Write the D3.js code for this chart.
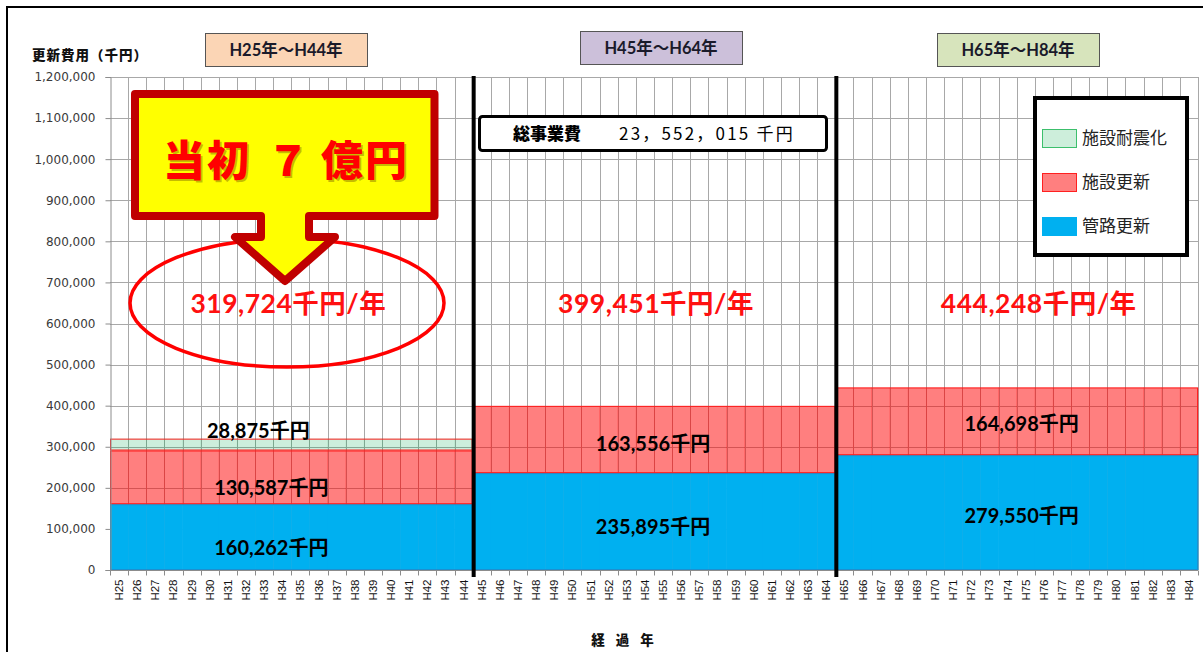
<!DOCTYPE html>
<html lang="ja">
<head>
<meta charset="utf-8">
<script src="https://cdn.jsdelivr.net/npm/d3@7"></script>
<style>
  html, body { margin: 0; padding: 0; background: #fff; }
  svg { display: block; }
</style>
</head>
<body>
<svg id="chart" width="1203" height="652"></svg>
<script>
// 年度（横軸カテゴリ）
const years = [
  "H25","H26","H27","H28","H29","H30","H31","H32","H33","H34",
  "H35","H36","H37","H38","H39","H40","H41","H42","H43","H44",
  "H45","H46","H47","H48","H49","H50","H51","H52","H53","H54",
  "H55","H56","H57","H58","H59","H60","H61","H62","H63","H64",
  "H65","H66","H67","H68","H69","H70","H71","H72","H73","H74",
  "H75","H76","H77","H78","H79","H80","H81","H82","H83","H84"
];

// 期間ごとの年平均更新費用（千円）
const periods = ["H25年～H44年", "H45年～H64年", "H65年～H84年"];
const pipeRenewal = [160262, 235895, 279550];      // 管路更新
const facilityRenewal = [130587, 163556, 164698];  // 施設更新
const seismic = [28875, 0, 0];                     // 施設耐震化
const annualTotals = [319724, 399451, 444248];     // 年平均合計
const yearsPerPeriod = 20;

// 縦軸目盛
const yTicks = [0, 100000, 200000, 300000, 400000, 500000, 600000,
                700000, 800000, 900000, 1000000, 1100000, 1200000];

const totalCost = "23，552，015 千円";

const seriesNames = ["施設耐震化", "施設更新", "管路更新"];

// ---- layout ----
const svg = d3.select("#chart");
const plot = { left: 110, right: 1198, top: 77, bottom: 570 };
const jpFont = "'Noto Sans CJK JP', sans-serif";
const numFont = "Lato, 'Noto Sans CJK JP', sans-serif";

const x = d3.scaleBand().domain(years).range([plot.left, plot.right]).padding(0);
const y = d3.scaleLinear().domain([0, 1200000]).range([plot.bottom, plot.top]);

// one row per year, carrying the average of its period
const rows = years.map((yr, i) => {
  const p = Math.floor(i / yearsPerPeriod);
  return { year: yr, period: p, pipe: pipeRenewal[p], facility: facilityRenewal[p], seismic: seismic[p] };
});
const stack = d3.stack().keys(["pipe", "facility", "seismic"])(rows);

// outer frame
svg.append("rect").attr("x", 7).attr("y", 7).attr("width", 1215).attr("height", 670)
  .attr("fill", "#fff").attr("stroke", "#000").attr("stroke-width", 2);

// gridlines
const grid = svg.append("g").attr("stroke", "#a8a8a8").attr("stroke-width", 1);
grid.selectAll("line.h").data(yTicks.slice(1)).join("line")
  .attr("x1", plot.left).attr("x2", plot.right)
  .attr("y1", d => Math.round(y(d)) + 0.5).attr("y2", d => Math.round(y(d)) + 0.5);
const boundaries = years.map(d => x(d)).concat([x(years[years.length - 1]) + x.bandwidth()]);
grid.selectAll("line.v").data(boundaries.slice(1)).join("line")
  .attr("x1", d => Math.round(d) + 0.5).attr("x2", d => Math.round(d) + 0.5)
  .attr("y1", plot.top).attr("y2", plot.bottom);

// stacked bars
const fills = {
  pipe: "#00B0F0",
  facility: "rgba(255,0,0,0.5)",
  seismic: "rgba(0,170,80,0.2)"
};
svg.append("g").selectAll("g").data(stack).join("g")
  .attr("fill", d => fills[d.key])
  .selectAll("rect").data(d => d.filter(s => s[1] > s[0])).join("rect")
  .attr("x", d => x(d.data.year))
  .attr("width", x.bandwidth() + 0.4)
  .attr("y", d => y(d[1]))
  .attr("height", d => y(d[0]) - y(d[1]));

// outline of each period's segment block
const outlineColor = { pipe: "#1d8fd0", facility: "#ff2020", seismic: "#ff2020" };
stack.forEach(layer => {
  periods.forEach((_, p) => {
    const seg = layer.filter(s => s.data.period === p);
    const s = seg[0];
    if (s[1] <= s[0]) return;
    const x0 = x(seg[0].data.year), x1 = x(seg[seg.length - 1].data.year) + x.bandwidth();
    svg.append("rect")
      .attr("x", x0 + 0.5).attr("y", y(s[1]) + 0.5)
      .attr("width", x1 - x0 - 1).attr("height", y(s[0]) - y(s[1]) - 1)
      .attr("fill", "none").attr("stroke", outlineColor[layer.key]).attr("stroke-width", 1);
  });
});

// axes
const yAxis = svg.append("g").attr("transform", `translate(${plot.left + 0.5},0)`)
  .call(d3.axisLeft(y).tickValues(yTicks).tickFormat(d3.format(",")).tickSize(5).tickPadding(10));
yAxis.select(".domain").attr("stroke", "#8c8c8c");
yAxis.selectAll(".tick line").attr("stroke", "#8c8c8c");
yAxis.selectAll(".tick text").attr("font-family", "'DejaVu Sans', sans-serif")
  .attr("font-size", 12).attr("fill", "#3a3a3a");

const xAxisG = svg.append("g").attr("transform", `translate(0,${plot.bottom + 0.5})`);
xAxisG.append("line").attr("x1", plot.left).attr("x2", plot.right)
  .attr("stroke", "#8c8c8c");
xAxisG.selectAll("line.tick").data(boundaries).join("line")
  .attr("x1", d => Math.round(d) + 0.5).attr("x2", d => Math.round(d) + 0.5)
  .attr("y1", 0).attr("y2", 5).attr("stroke", "#8c8c8c");
xAxisG.selectAll("text").data(years).join("text")
  .attr("transform", d => `translate(${x(d) + x.bandwidth() / 2 + 4},9) rotate(-90)`)
  .attr("text-anchor", "end")
  .attr("font-family", "'Liberation Sans', Arial, sans-serif")
  .attr("font-size", 11.5).attr("fill", "#111")
  .text(d => d);

// axis titles
svg.append("text").attr("x", 32).attr("y", 60)
  .attr("font-family", jpFont).attr("font-weight", 900).attr("font-size", 13.5)
  .attr("letter-spacing", 1).attr("fill", "#111").text("更新費用（千円）");
svg.append("text").attr("x", 628).attr("y", 645).attr("text-anchor", "middle")
  .attr("font-family", jpFont).attr("font-weight", 900).attr("font-size", 13.5)
  .attr("letter-spacing", 11).attr("fill", "#111").text("経過年");

// period dividers
[yearsPerPeriod, yearsPerPeriod * 2].forEach(i => {
  const bx = x(years[i]) + 1;
  svg.append("line").attr("x1", bx).attr("x2", bx)
    .attr("y1", plot.top - 1).attr("y2", plot.bottom + 7)
    .attr("stroke", "#000").attr("stroke-width", 4);
});

// period header boxes
const headerFill = ["#FBD5B5", "#CCC0DA", "#D7E4BC"];
const headerBox = [{ x: 205, y: 33 }, { x: 580, y: 31 }, { x: 937, y: 33 }];
periods.forEach((label, p) => {
  const b = headerBox[p];
  svg.append("rect").attr("x", b.x + 0.5).attr("y", b.y + 0.5).attr("width", 162).attr("height", 33)
    .attr("fill", headerFill[p]).attr("stroke", "#555").attr("stroke-width", 1);
  svg.append("text").attr("x", b.x + 81).attr("y", b.y + 23).attr("text-anchor", "middle")
    .attr("font-family", numFont).attr("font-weight", 700).attr("font-size", 16.5)
    .attr("fill", "#1a1a2a").text(label);
});

// segment value labels
const periodCenter = p => {
  const a = x(years[p * yearsPerPeriod]);
  const b = x(years[p * yearsPerPeriod + yearsPerPeriod - 1]) + x.bandwidth();
  return (a + b) / 2;
};
const labelDx = [-20, -1, 5];
const labelDy = [10, 4, 2];
const fmt = d3.format(",");
const segLabel = (tx, ty, v, baseline) => svg.append("text")
  .attr("x", tx).attr("y", ty).attr("text-anchor", "middle")
  .attr("dominant-baseline", baseline)
  .attr("font-family", numFont).attr("font-weight", 700).attr("font-size", 20)
  .attr("fill", "#000").text(fmt(v) + "千円");
periods.forEach((_, p) => {
  const cx = periodCenter(p) + labelDx[p];
  segLabel(cx, y(pipeRenewal[p] / 2) + labelDy[p], pipeRenewal[p], "central");
  segLabel(cx, y(pipeRenewal[p] + facilityRenewal[p] / 2) + labelDy[p], facilityRenewal[p], "central");
  if (seismic[p] > 0) {
    segLabel(cx - 13, y(pipeRenewal[p] + facilityRenewal[p] + seismic[p]) - 1, seismic[p], "alphabetic");
  }
});

// annual totals
const rateDx = [-3, 2, 22];
periods.forEach((_, p) => {
  svg.append("text").attr("x", periodCenter(p) + rateDx[p]).attr("y", 313)
    .attr("text-anchor", "middle")
    .attr("font-family", numFont).attr("font-weight", 700).attr("font-size", 26.5)
    .attr("letter-spacing", 0.5)
    .attr("fill", "#FF1010").text(fmt(annualTotals[p]) + "千円/年");
});

// total project cost box
svg.append("rect").attr("x", 479.5).attr("y", 116.5).attr("width", 347).attr("height", 34).attr("rx", 3)
  .attr("fill", "#fff").attr("stroke", "#000").attr("stroke-width", 3);
svg.append("text").attr("x", 513).attr("y", 140)
  .attr("font-family", jpFont).attr("font-weight", 900).attr("font-size", 17)
  .attr("fill", "#000").text("総事業費");
svg.append("text").attr("x", 619).attr("y", 140)
  .attr("font-family", jpFont).attr("font-size", 17).attr("letter-spacing", 2.2)
  .attr("fill", "#000").text(totalCost);

// legend
const legend = svg.append("g");
legend.append("rect").attr("x", 1035).attr("y", 98).attr("width", 152).attr("height", 157)
  .attr("fill", "#fff").attr("stroke", "#000").attr("stroke-width", 4);
const swatch = [
  { fill: "#CDEEDB", stroke: "#3cbf6c" },
  { fill: "#FF7F7F", stroke: "#ff2020" },
  { fill: "#00B0F0", stroke: "#00B0F0" }
];
seriesNames.forEach((name, i) => {
  const sy = 129 + i * 44;
  legend.append("rect").attr("x", 1042.5).attr("y", sy + 0.5).attr("width", 34).attr("height", 18)
    .attr("fill", swatch[i].fill).attr("stroke", swatch[i].stroke).attr("stroke-width", 1);
  legend.append("text").attr("x", 1082).attr("y", sy + 15)
    .attr("font-family", jpFont).attr("font-size", 17).attr("fill", "#222").text(name);
});

// ellipse around the first-period rate
svg.append("ellipse").attr("cx", 287).attr("cy", 303).attr("rx", 157).attr("ry", 64)
  .attr("fill", "none").attr("stroke", "#FF0000").attr("stroke-width", 3.5);

// callout arrow
svg.append("path")
  .attr("d", "M135,94 H434.5 V216 H309 V237 H335 L285,281 L235,237 H261 V216 H135 Z")
  .attr("fill", "#FFFF00").attr("stroke", "#C00000").attr("stroke-width", 8)
  .attr("stroke-linejoin", "round");
// callout caption, drawn as words with their own spacing, plus a soft shadow
const calloutParts = [{ t: "当初", cx: 207 }, { t: "７", cx: 288 }, { t: "億円", cx: 365 }];
[{ dx: 1.8, dy: 1.8, fill: "rgba(90,60,0,0.35)" }, { dx: 0, dy: 0, fill: "#FF0000" }].forEach(layer => {
  calloutParts.forEach(part => {
    svg.append("text").attr("x", part.cx + layer.dx).attr("y", 176 + layer.dy)
      .attr("text-anchor", "middle")
      .attr("font-family", jpFont).attr("font-weight", 900).attr("font-size", 42)
      .attr("letter-spacing", part.t.length > 1 ? 2 : 0)
      .attr("fill", layer.fill).text(part.t);
  });
});
</script>
</body>
</html>
